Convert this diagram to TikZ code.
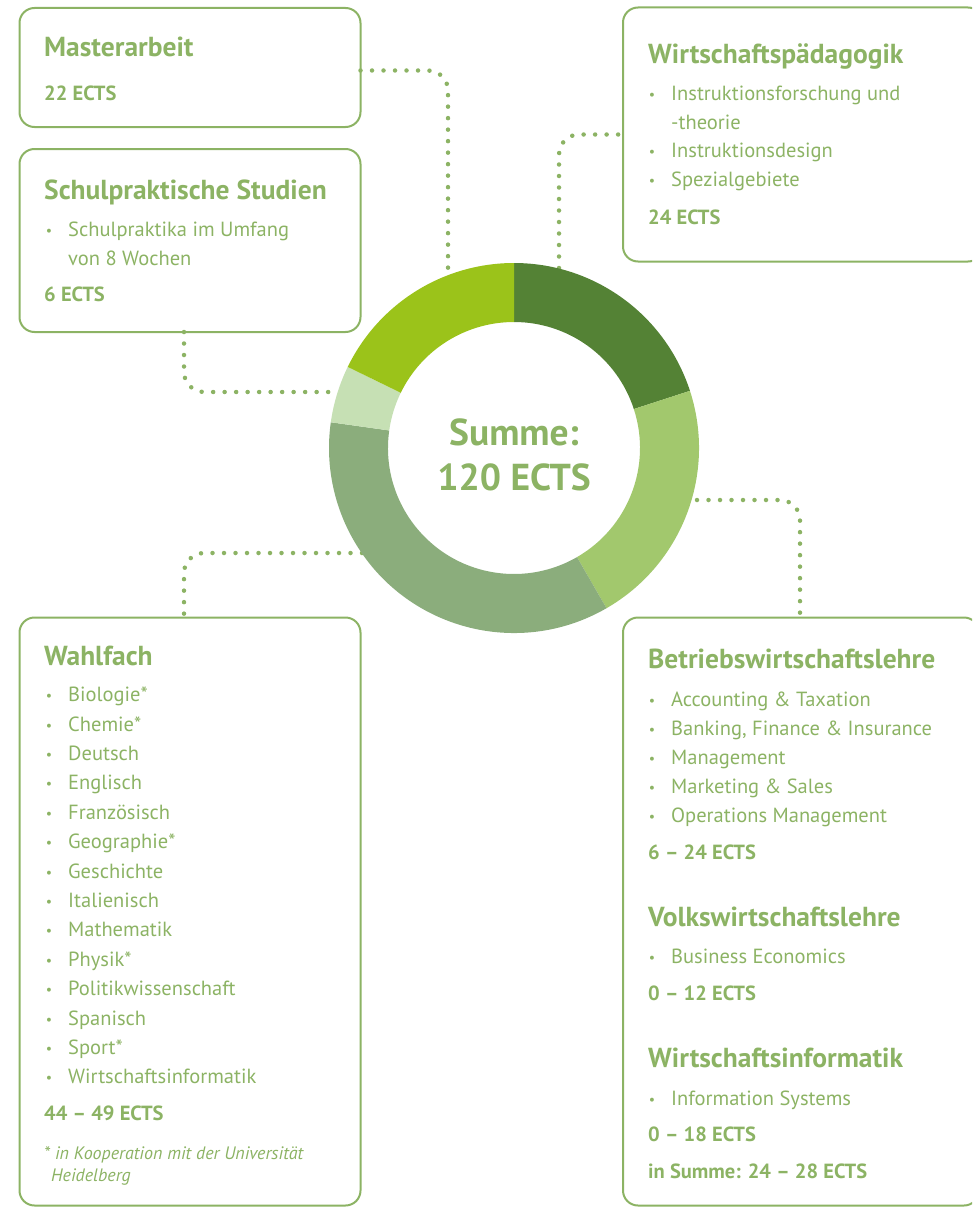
\documentclass[tikz,border=0pt]{standalone}
\usepackage{fontspec}
\setmainfont{PT Sans}
\definecolor{ecgreen}{RGB}{140,179,100}
\definecolor{cWiPaed}{RGB}{84,130,53}
\definecolor{cBWL}{RGB}{162,200,109}
\definecolor{cWahl}{RGB}{139,173,124}
\definecolor{cSchul}{RGB}{198,224,180}
\definecolor{cMaster}{RGB}{155,195,26}
\begin{document}
\begin{tikzpicture}[x=1pt, y=-1pt, line join=round, line cap=round, text=ecgreen,
  box/.style={draw=ecgreen, line width=2pt, rounded corners=15pt, inner sep=0pt, outer sep=0pt, anchor=north west},
  head/.style={anchor=base west, inner sep=0pt, font=\fontsize{27.5}{32}\selectfont\bfseries},
  ects/.style={anchor=base west, inner sep=0pt, font=\fontsize{20.5}{24}\selectfont\bfseries},
  txt/.style={anchor=base west, inner sep=0pt, font=\fontsize{20.5}{24}\selectfont},
  item/.style={txt, execute at begin node={\llap{\raisebox{1pt}{\fontsize{14}{14}\selectfont\textbullet}\hspace{16pt}}}},
  dots/.style={draw=ecgreen, line width=4.5pt, dash pattern=on 0pt off 11.5pt, line cap=round, rounded corners=20pt}]
\useasboundingbox (0,0) rectangle (972,1207);
\clip (0,0) rectangle (972,1207);

% boxes
\node[box, minimum width=341pt, minimum height=119pt] (master) at (19.5,8) {};
\node[box, minimum width=341pt, minimum height=183pt] (schul) at (19.5,149) {};
\node[box, minimum width=360pt, minimum height=254pt] (wipaed) at (623,7.5) {};
\node[box, minimum width=341pt, minimum height=588pt] (wahl) at (19.5,617.5) {};
\node[box, minimum width=356pt, minimum height=588pt] (bwl) at (623,617.5) {};

% ends of the connectors at the ring
\coordinate (mEnd) at (448,272);
\coordinate (sEnd) at (338,392);
\coordinate (wEnd) at (559,268);
\coordinate (bEnd) at (697,500);
\coordinate (fEnd) at (362,553);

\draw[dots] ([yshift=-3pt]master.east) -| (mEnd);
\draw[dots] ([xshift=-6pt]schul.south) |- (sEnd);
\draw[dots] (wEnd) |- (wipaed.west);
\draw[dots] (bEnd) -| ([xshift=-1pt]bwl.north);
\draw[dots] (fEnd) -| ([xshift=-6pt]wahl.north);

% ring
\begin{scope}[shift={(514,448)}, yscale=-1]
\foreach \a/\b/\c in {90/18/cWiPaed, 18/-60/cBWL, -60/-188/cWahl, -188/-206/cSchul, -206/-270/cMaster}
  \fill[\c] (\a:185) arc[start angle=\a, end angle=\b, radius=185] -- (\b:126) arc[start angle=\b, end angle=\a, radius=126] -- cycle;
\end{scope}
\node[anchor=base, inner sep=0pt, font=\fontsize{37.5}{42}\selectfont\bfseries] (sumA) at (514,445) {Summe:};
\node[anchor=base, inner sep=0pt, font=\fontsize{37.5}{42}\selectfont\bfseries] (sumB) at (514,490) {120 ECTS};

% Masterarbeit
\node[head] (masterT) at (44,56.7) {Masterarbeit};
\node[ects] (masterE) at (44,100) {22 ECTS};

% Schulpraktische Studien
\node[head] (schulT) at (44,199.3) {Schulpraktische Studien};
\node[item] (schul1) at (68,236.7) {Schulpraktika im Umfang};
\node[txt] (schul2) at (68,265) {von 8 Wochen};
\node[ects] (schulE) at (44,301.7) {6 ECTS};

% Wirtschaftspaedagogik
\node[head] (wipaedT) at (648,63.3) {Wirtschaftspädagogik};
\node[item] (wipaed1) at (671,100) {Instruktionsforschung und};
\node[txt] (wipaed2) at (671,129) {-theorie};
\node[item] (wipaed3) at (671,157.3) {Instruktionsdesign};
\node[item] (wipaed4) at (671,186.7) {Spezialgebiete};
\node[ects] (wipaedE) at (648,224) {24 ECTS};

% Wahlfach
\node[head] (wahlT) at (44,665) {Wahlfach};
\foreach \t [count=\i] in {Biologie*, Chemie*, Deutsch, Englisch, Französisch, Geographie*, Geschichte, Italienisch, Mathematik, Physik*, Politikwissenschaft, Spanisch, Sport*, Wirtschaftsinformatik}
  \node[item] (wahl\i) at (68,{672.3+29.4*\i}) {\t};
\node[ects] (wahlE) at (44,1120) {44 – 49 ECTS};
\node[txt, font=\fontsize{18}{22}\selectfont\itshape] (wahlN1) at (44,1159.3) {* in Kooperation mit der Universität};
\node[txt, font=\fontsize{18}{22}\selectfont\itshape] (wahlN2) at (51,1181.7) {Heidelberg};

% Betriebswirtschaftslehre, VWL, WI
\node[head] (bwlT) at (648,668.3) {Betriebswirtschaftslehre};
\foreach \t [count=\i] in {Accounting \& Taxation, {Banking, Finance \& Insurance}, Management, Marketing \& Sales, Operations Management}
  \node[item] (bwl\i) at (671,{676.8+29.2*\i}) {\t};
\node[ects] (bwlE) at (648,859.3) {6 – 24 ECTS};
\node[head] (vwlT) at (648,926.7) {Volkswirtschaftslehre};
\node[item] (vwl1) at (671,963.3) {Business Economics};
\node[ects] (vwlE) at (648,1000.7) {0 – 12 ECTS};
\node[head] (wiT) at (648,1067.3) {Wirtschaftsinformatik};
\node[item] (wi1) at (671,1105) {Information Systems};
\node[ects] (wiE) at (648,1141.7) {0 – 18 ECTS};
\node[ects] (sumE) at (648,1178.3) {in Summe: 24 – 28 ECTS};
\end{tikzpicture}
\end{document}
